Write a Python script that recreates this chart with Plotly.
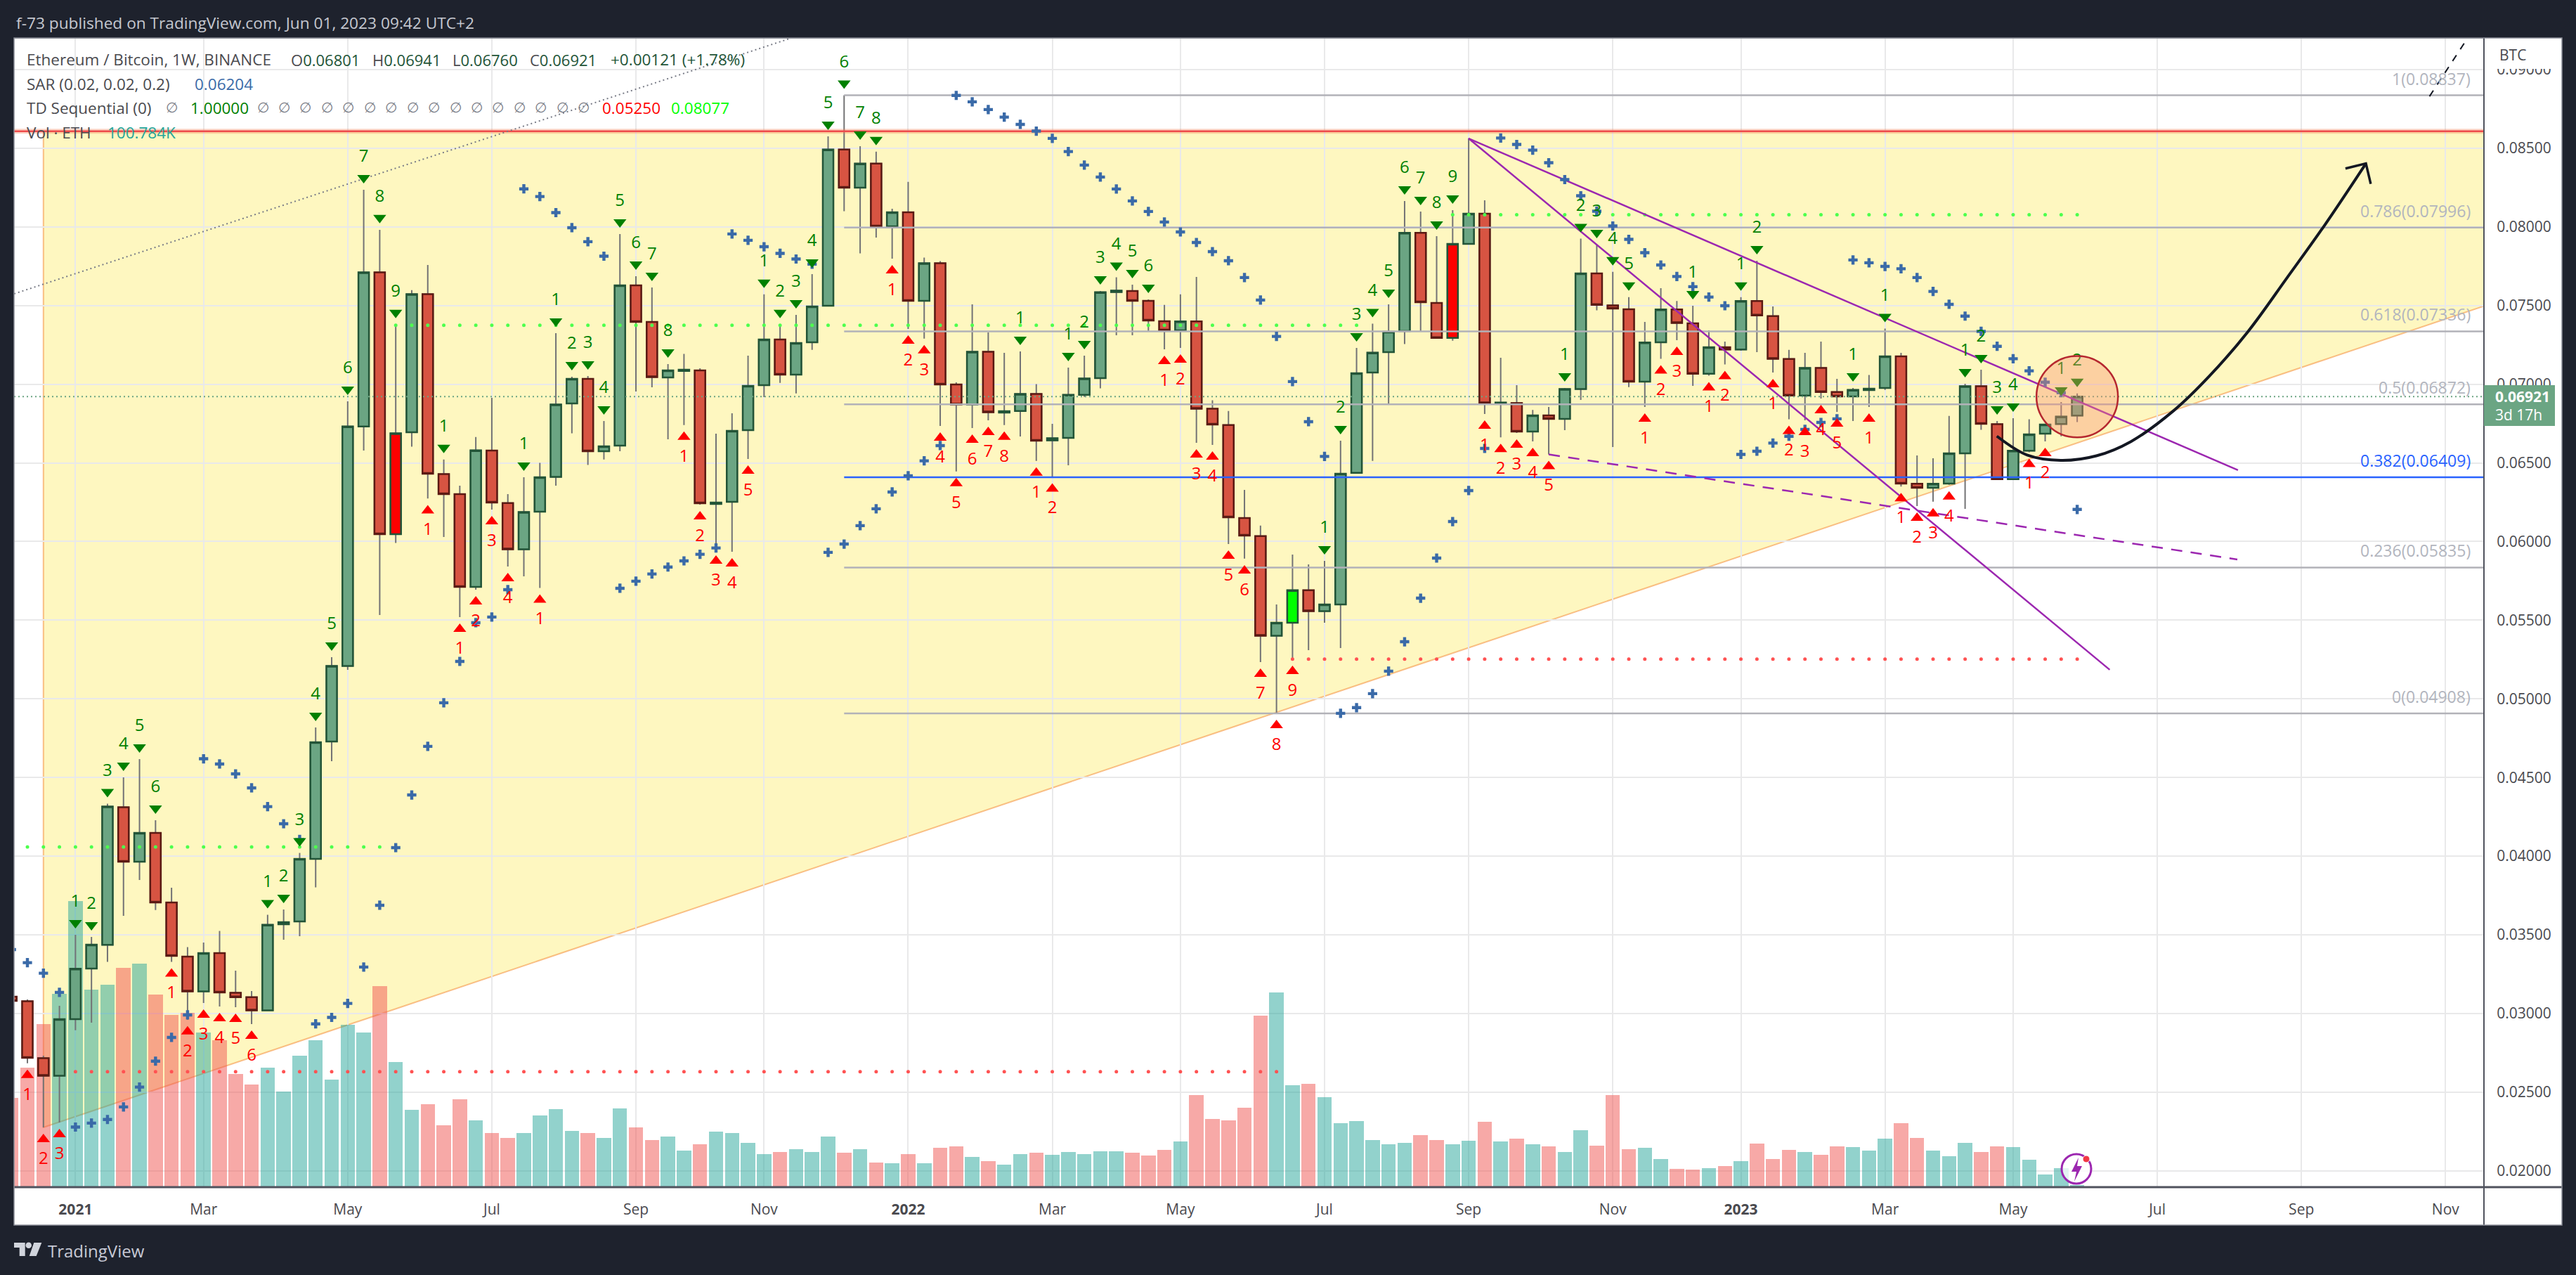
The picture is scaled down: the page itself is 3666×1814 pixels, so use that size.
from datetime import datetime, timedelta
import plotly.graph_objects as go

W, H = 3666, 1814
FONT = "Open Sans"

# weekly ETH/BTC candles, first bar is the clipped one at the left edge
first_week = datetime(2020, 12, 7)
opens = [
    .03107, .03078, .02716, .02604, .02964, .03286, .03436, .04311, .03965, .04148,
    .03706, .03362, .03140, .03384, .03131, .03104, .03020, .03567, .03585, .03983,
    .04729, .05209, .06731, .07711, .06047, .06695, .07573, .06429, .06302, .05712,
    .06579, .06245, .05951, .06190, .06411, .06878, .07034, .06574, .06610, .07629,
    .07396, .07043, .07084, .07088, .06239, .06252, .06708, .06994, .07285, .07061,
    .07267, .07499, .08492, .08250, .08403, .08004, .08093, .07530, .07769, .06999,
    .06871, .07206, .06820, .06830, .06938, .06643, .06659, .06933, .07039, .07586,
    .07593, .07530, .07401, .07343, .07399, .06844, .06741, .06150, .06034, .05401,
    .05484, .05690, .05558, .05600, .06437, .07074, .07204, .07338, .07962, .07517,
    .07294, .07892, .08084, .06874, .06880, .06699, .06802, .06780, .06969, .07705,
    .07501, .07477, .07016, .07267, .07475, .07387, .07067, .07235, .07221, .07529,
    .07433, .07160, .06928, .07103, .06950, .06923, .06963, .06976, .07177, .06367,
    .06342, .06369, .06561, .06987, .06746, .06396, .06577, .06686, .06747, .06801,
]
highs = [
    .03116, .03089, .02732, .03049, .03500, .03487, .04333, .04501, .04617, .04228,
    .03799, .03422, .03451, .03525, .03272, .03143, .03627, .03661, .04020, .04818,
    .05265, .06891, .08236, .07982, .07379, .07598, .07758, .06521, .06355, .06664,
    .06914, .06302, .06409, .06500, .07325, .07048, .07052, .06766, .07955, .07687,
    .07615, .07128, .07193, .07101, .06686, .06815, .07182, .07571, .07379, .07441,
    .07700, .08576, .08837, .08513, .08478, .08115, .08286, .07805, .07783, .07012,
    .07508, .07329, .07200, .07209, .07001, .06748, .07106, .07182, .07593, .07680,
    .07633, .07539, .07504, .07571, .07682, .06898, .06830, .06328, .06101, .05600,
    .05917, .05855, .05877, .06641, .07231, .07385, .07508, .08165, .08098, .07941,
    .08107, .08563, .08169, .07168, .06994, .06836, .06856, .06976, .07926, .07888,
    .07714, .07554, .07396, .07611, .07529, .07499, .07343, .07271, .07554, .07785,
    .07495, .07218, .07200, .07271, .07034, .06976, .07059, .07354, .07200, .06547,
    .06529, .06798, .07003, .07092, .06766, .06784, .06777, .06744, .06887, .06941,
]
lows = [
    .03062, .02684, .02276, .02307, .02893, .02942, .03328, .03621, .03849, .03657,
    .03328, .02960, .03067, .03044, .03040, .02933, .03020, .03469, .03491, .03802,
    .04604, .05185, .06579, .05533, .05991, .06603, .06273, .06029, .05520, .05694,
    .06203, .05841, .05779, .05705, .06355, .06688, .06487, .06522, .06574, .06954,
    .06981, .06650, .06740, .06235, .05953, .05935, .06525, .06918, .07008, .06941,
    .07218, .07495, .08100, .07832, .07932, .07798, .07352, .07290, .06735, .06446,
    .06722, .06771, .06740, .06668, .06513, .06411, .06485, .06919, .06974, .07311,
    .07311, .07338, .07222, .07231, .06628, .06614, .05984, .05891, .05234, .04908,
    .05252, .05310, .05484, .05323, .06437, .06513, .06878, .07255, .07338, .07289,
    .07277, .07892, .06811, .06662, .06690, .06637, .06554, .06708, .06900, .07470,
    .06601, .06982, .06856, .07162, .07280, .06990, .07054, .07126, .07213, .07204,
    .07075, .06777, .06771, .06909, .06824, .06766, .06856, .06964, .06349, .06226,
    .06253, .06361, .06208, .06710, .06391, .06391, .06567, .06637, .06669, .06760,
]
closes = [
    .03080, .02718, .02604, .02964, .03284, .03438, .04315, .03965, .04148, .03706,
    .03366, .03140, .03384, .03134, .03104, .03020, .03564, .03581, .03983, .04724,
    .05209, .06731, .07711, .06047, .06688, .07573, .06431, .06302, .05712, .06580,
    .06248, .05951, .06187, .06409, .06871, .07034, .06574, .06605, .07629, .07396,
    .07045, .07088, .07092, .06243, .06248, .06704, .06990, .07285, .07061, .07262,
    .07495, .08492, .08250, .08403, .08004, .08093, .07530, .07769, .06999, .06871,
    .07206, .06822, .06829, .06938, .06641, .06657, .06933, .07036, .07585, .07595,
    .07530, .07405, .07343, .07399, .06844, .06744, .06154, .06038, .05401, .05484,
    .05690, .05558, .05600, .06431, .07070, .07201, .07334, .07962, .07521, .07294,
    .07892, .08084, .06880, .06883, .06699, .06802, .06780, .06969, .07705, .07504,
    .07481, .07016, .07265, .07475, .07390, .07067, .07235, .07221, .07529, .07437,
    .07162, .06928, .07103, .06951, .06923, .06964, .06972, .07177, .06369, .06342,
    .06367, .06561, .06987, .06748, .06396, .06577, .06681, .06744, .06794, .06921,
]
# volume in thousand ETH, the pane scale is cut off near 70K
volumes = [
    1340, 1770, 2390, 2820, 4140, 2880, 2950, 3190, 3250, 2810,
    2520, 2550, 2270, 2160, 1680, 1530, 1770, 1430, 1940, 2160,
    1600, 2380, 2270, 2930, 1850, 1170, 1250, 950, 1320, 1020,
    840, 770, 840, 1090, 1180, 870, 840, 770, 1190, 920,
    740, 790, 590, 680, 860, 840, 700, 540, 570, 610,
    570, 790, 560, 610, 420, 410, 540, 410, 630, 650,
    500, 440, 390, 540, 560, 530, 570, 540, 580, 580,
    560, 520, 600, 720, 1380, 1040, 1020, 1200, 2510, 2840,
    1520, 1540, 1350, 980, 1010, 740, 680, 700, 810, 740,
    680, 730, 1000, 720, 760, 680, 650, 570, 880, 660,
    1380, 610, 630, 470, 330, 320, 340, 370, 440, 690,
    470, 600, 570, 530, 650, 640, 590, 760, 980, 770,
    590, 510, 700, 570, 650, 640, 460, 250, 340, 101,
]
sar = [
    .03406, .03323, .03256, .03134, .02278, .02303, .02326, .02406, .02532, .02697,
    .02848, .02991, .04619, .04586, .04523, .04434, .04315, .04206, .04106, .02934,
    .02975, .03064, .03295, .03688, .04054, .04389, .04698, .04975, .05238, .05484,
    .05520, .05694, .08242, .08193, .08091, .07995, .07906, .07814, .05703, .05748,
    .05794, .05838, .05877, .05919, .05959, .07955, .07915, .07874, .07832, .07796,
    .07763, .05931, .05984, .06101, .06208, .06315, .06418, .06513, .06610, .08836,
    .08795, .08746, .08698, .08652, .08609, .08563, .08479, .08393, .08317, .08241,
    .08165, .08098, .08031, .07968, .07901, .07843, .07785, .07678, .07535, .07304,
    .07017, .06762, .06541, .04908, .04944, .05033, .05176, .05363, .05640, .05895,
    .06127, .06324, .06592, .08565, .08524, .08488, .08408, .08301, .08198, .08100,
    .08006, .07921, .07836, .07758, .07685, .07620, .07554, .07499, .06554, .06574,
    .06626, .06669, .06713, .06757, .06780, .07790, .07772, .07749, .07734, .07678,
    .07590, .07508, .07433, .07336, .07241, .07162, .07085, .07013, .06946, .06204,
]
# TD setup count per bar: positive above the bar, negative below, 0 for none
td_setup = [
    0, -1, -2, -3, 1, 2, 3, 4, 5, 6,
    -1, -2, -3, -4, -5, -6, 1, 2, 3, 4,
    5, 6, 7, 8, 9, 0, -1, 1, -1, -2,
    -3, -4, 1, -1, 1, 2, 3, 4, 5, 6,
    7, 8, -1, -2, -3, -4, -5, 1, 2, 3,
    4, 5, 6, 7, 8, -1, -2, -3, -4, -5,
    -6, -7, -8, 1, -1, -2, 1, 2, 3, 4,
    5, 6, -1, -2, -3, -4, -5, -6, -7, -8,
    -9, 0, 1, 2, 3, 4, 5, 6, 7, 8,
    9, 0, -1, -2, -3, -4, -5, 1, 2, 3,
    4, 5, -1, -2, -3, 1, -1, -2, 1, 2,
    -1, -2, -3, -4, -5, 1, -1, 1, -1, -2,
    -3, -4, 1, 2, 3, 4, -1, -2, 1, 2,
]
bright_red_bars = [23, 89]
bright_green_bars = [79]

# TD resistance and support levels: (first bar, last bar, price)
td_resist_levels = [(0, 23, .04059), (23, 83, .07375), (89, 128, .08077)]
td_support_levels = [(3, 78, .02630), (79, 128, .05253)]

fib_levels = [1, .786, .618, .5, .382, .236, 0]
fib_prices = [.08837, .07996, .07336, .06872, .06409, .05835, .04908]

price_ticks = [.02, .025, .03, .035, .04, .045, .05, .055, .06, .065, .07, .075, .08, .085, .09]
date_tick_bars = [3, 11, 20, 29, 38, 46, 55, 64, 72, 81, 90, 99, 107, 116, 124, 133, 142, 151]
date_tick_text = ["<b>2021</b>", "Mar", "May", "Jul", "Sep", "Nov", "<b>2022</b>", "Mar", "May", "Jul", "Sep",
                  "Nov", "<b>2023</b>", "Mar", "May", "Jul", "Sep", "Nov"]

resistance_price = .08608
last_close = .06921
left_bar, right_bar = -0.834, 153.4

# drawings on the chart: bar number and price
wedge_low = [(1, .02276), (153.4, .07497)]
trend_dotted = [(-0.83, .07575), (47.65, .09199)]
trend_dashed_black = [(150.0, .08830), (152.3, .09188)]
fan_upper = [(90, .08562), (138.04, .06454)]
fan_lower = [(90, .08562), (130.03, .05185)]
fan_dashed = [(95, .06554), (138.0, .05886)]
curve_bars = [122.98, 124.87, 126.98, 129.2, 131.36, 134.07, 136.23, 138.66, 141.1, 143.5, 146.03]
curve_prices = [.06670, .06550, .06516, .06545, .06636, .06836, .07049, .07334, .07676, .08018, .08403]
arrow_head = [(144.75, .08371), (146.03, .08403), (146.33, .08274)]


def bar_date(i):
    # bar 0 of the lists is number -1 on the chart
    return first_week + timedelta(days=7 * (i + 1))


def px(x):
    return x / W


def py(y):
    return 1 - y / H


n = len(opens)
bars = list(range(-1, n - 1))
dates = [bar_date(i) for i in bars]
left_x, right_x = bar_date(left_bar), bar_date(right_bar)


def pick(values, wanted):
    return [v for i, v in zip(bars, values) if i in wanted]


def candles(wanted, color_up, color_down, fill_up, fill_down, hi, lo, width):
    return go.Candlestick(
        x=pick(dates, wanted), open=pick(opens, wanted), close=pick(closes, wanted),
        high=pick(hi, wanted), low=pick(lo, wanted), yaxis="y2", whiskerwidth=0,
        increasing=dict(line=dict(color=color_up, width=width), fillcolor=fill_up),
        decreasing=dict(line=dict(color=color_down, width=width), fillcolor=fill_down),
        hoverinfo="skip", showlegend=False,
    )


def line(points, color, width=2.5, dash="solid", shape="linear"):
    return go.Scatter(
        x=[bar_date(p[0]) for p in points], y=[p[1] for p in points], yaxis="y2",
        mode="lines", line=dict(color=color, width=width, dash=dash, shape=shape),
        hoverinfo="skip", showlegend=False,
    )


fig = go.Figure()

# volume sits on the lower axis so the price traces stay on top
vol_colors = ["rgba(38,166,154,.5)" if c >= o else "rgba(239,83,80,.5)" for o, c in zip(opens, closes)]
fig.add_trace(go.Bar(x=dates, y=volumes, marker=dict(color=vol_colors, line_width=0),
                     width=7 * 86400000 * 0.9, hoverinfo="skip", showlegend=False))

# TD levels as one dot per bar
for levels, color in [(td_resist_levels, "#4dff4d"), (td_support_levels, "#ff5252")]:
    for first, last, level in levels:
        level_bars = list(range(first, last + 1))
        fig.add_trace(go.Scatter(x=[bar_date(i) for i in level_bars], y=[level] * len(level_bars), yaxis="y2",
                                 mode="markers", marker=dict(color=color, size=5), hoverinfo="skip", showlegend=False))

fig.add_trace(line([(left_bar, last_close), (right_bar, last_close)], "#6ba583", 2, "2px,4px"))

GREY = "#737375"
plain_bars = set(bars) - set(bright_red_bars) - set(bright_green_bars)
fig.add_trace(candles(set(bars), GREY, GREY, "rgba(0,0,0,0)", "rgba(0,0,0,0)", highs, lows, 2))
body_hi = [max(o, c) for o, c in zip(opens, closes)]
body_lo = [min(o, c) for o, c in zip(opens, closes)]
fig.add_trace(candles(plain_bars, "#225437", "#5b1a13", "#6ba583", "#d75442", body_hi, body_lo, 2.5))
fig.add_trace(candles(set(bright_red_bars), "#225437", "#5b1a13", "#ff0000", "#ff0000", body_hi, body_lo, 2.5))
fig.add_trace(candles(set(bright_green_bars), "#225437", "#225437", "#00ff00", "#00ff00", body_hi, body_lo, 2.5))

# fibonacci retracement from the 2021 high
for level, price in zip(fib_levels, fib_prices):
    blue = level == .382
    fig.add_trace(line([(51, price), (right_bar, price)], "#2962ff" if blue else "#b2b2b8", 2.5))

fig.add_trace(line([(left_bar, resistance_price), (right_bar, resistance_price)], "rgba(245,130,90,.35)", 7))
fig.add_trace(line([(left_bar, resistance_price), (right_bar, resistance_price)], "#ee4b4b", 2.5))
fig.add_trace(line(trend_dotted, "#787b86", 2, "2px,4px"))
fig.add_trace(line(trend_dashed_black, "#131722", 2, "10px,10px"))
fig.add_trace(line(fan_upper, "#9c27b0"))
fig.add_trace(line(fan_lower, "#9c27b0"))
fig.add_trace(line(fan_dashed, "#9c27b0", 2.5, "16px,12px"))

# parabolic SAR
fig.add_trace(go.Scatter(x=dates, y=sar, yaxis="y2", mode="markers",
                         marker=dict(symbol="cross", size=11, color="#3a6aa8", line_width=0),
                         hoverinfo="skip", showlegend=False))

# TD sequential triangles and digits
TRI_GAP, DIGIT_GAP = .00076, .00205
sell_bars = [j for j in range(n) if td_setup[j] > 0]
buy_bars = [j for j in range(n) if td_setup[j] < 0]
fig.add_trace(go.Scatter(x=[dates[j] for j in sell_bars], y=[highs[j] + TRI_GAP for j in sell_bars], yaxis="y2",
                         mode="markers", marker=dict(symbol="triangle-down", size=16, color="#008000", line_width=0),
                         hoverinfo="skip", showlegend=False))
fig.add_trace(go.Scatter(x=[dates[j] for j in sell_bars], y=[highs[j] + DIGIT_GAP for j in sell_bars], yaxis="y2",
                         mode="text", text=[str(td_setup[j]) for j in sell_bars],
                         textfont=dict(family=FONT, size=24, color="#008000"), hoverinfo="skip", showlegend=False))
fig.add_trace(go.Scatter(x=[dates[j] for j in buy_bars], y=[lows[j] - TRI_GAP for j in buy_bars], yaxis="y2",
                         mode="markers", marker=dict(symbol="triangle-up", size=16, color="#ff0000", line_width=0),
                         hoverinfo="skip", showlegend=False))
fig.add_trace(go.Scatter(x=[dates[j] for j in buy_bars], y=[lows[j] - DIGIT_GAP for j in buy_bars], yaxis="y2",
                         mode="text", text=[str(-td_setup[j]) for j in buy_bars],
                         textfont=dict(family=FONT, size=24, color="#ff0000"), hoverinfo="skip", showlegend=False))

# hand drawn forecast curve
fig.add_trace(go.Scatter(x=[bar_date(b) for b in curve_bars], y=curve_prices, yaxis="y2", mode="lines",
                         line=dict(color="#131722", width=4, shape="spline", smoothing=1),
                         hoverinfo="skip", showlegend=False))
fig.add_trace(line(arrow_head, "#131722", 3.5))


def path_point(b, price):
    return bar_date(b).strftime("%Y-%m-%d_%H:%M:%S") + "," + str(price)


wedge_path = ("M " + path_point(*wedge_low[0]) + " L " + path_point(*wedge_low[1])
              + " L " + path_point(wedge_low[1][0], resistance_price)
              + " L " + path_point(wedge_low[0][0], resistance_price) + " Z")

shapes = [
    # white strips of the two axes
    dict(type="rect", xref="paper", yref="paper", layer="below", x0=px(20), x1=px(3646), y0=py(1743), y1=py(1689),
         fillcolor="white", line_width=0),
    dict(type="rect", xref="paper", yref="paper", layer="below", x0=px(3535), x1=px(3646), y0=py(1743), y1=py(54),
         fillcolor="white", line_width=0),
    dict(type="path", xref="x", yref="y2", layer="below", path=wedge_path,
         fillcolor="rgba(252,230,60,.32)", line=dict(color="rgba(245,150,70,.6)", width=2)),
    dict(type="circle", xref="x", yref="y2", x0=bar_date(128 - 2.545), x1=bar_date(128 + 2.545),
         y0=last_close - .00259, y1=last_close + .00259,
         fillcolor="rgba(250,145,110,.38)", line=dict(color="#b5272f", width=2.5)),
    # block that cuts the top tick label under the BTC caption
    dict(type="rect", xref="paper", yref="paper", x0=px(3537), x1=px(3645), y0=py(98), y1=py(55),
         fillcolor="white", line_width=0),
    dict(type="line", xref="paper", yref="paper", x0=px(3535), x1=px(3535), y0=py(1743), y1=py(54),
         line=dict(color="#50535e", width=2)),
    dict(type="line", xref="paper", yref="paper", x0=px(20), x1=px(3646), y0=py(1689), y1=py(1689),
         line=dict(color="#50535e", width=3)),
    dict(type="rect", xref="paper", yref="paper", x0=px(20), x1=px(3646), y0=py(1743), y1=py(54),
         line=dict(color="#8a8d96", width=1.5)),
    # last price tag
    dict(type="rect", xref="paper", yref="paper", x0=px(3535), x1=px(3636), y0=py(606), y1=py(548),
         fillcolor="#6ba583", line_width=0),
    # replay bolt icon at the last bar
    dict(type="circle", xref="paper", yref="paper", x0=px(2934), x1=px(2976), y0=py(1684), y1=py(1642),
         fillcolor="rgba(255,255,255,.75)", line=dict(color="#9c27b0", width=3)),
    dict(type="path", xref="paper", yref="paper", fillcolor="#9c27b0", line_width=0,
         path=f"M {px(2958)},{py(1647)} L {px(2948)},{py(1667)} L {px(2955)},{py(1667)} L {px(2952)},{py(1681)} "
              f"L {px(2963)},{py(1659)} L {px(2956)},{py(1659)} Z"),
    dict(type="circle", xref="paper", yref="paper", x0=px(2964), x1=px(2974), y0=py(1654), y1=py(1644),
         fillcolor="#f23645", line=dict(color="white", width=1)),
    # TradingView mark in the footer
    dict(type="path", xref="paper", yref="paper", fillcolor="#d1d4dc", line_width=0,
         path=f"M {px(20)},{py(1768)} L {px(35.7)},{py(1768)} L {px(35.7)},{py(1787)} L {px(27.7)},{py(1787)} "
              f"L {px(27.7)},{py(1775)} L {px(20)},{py(1775)} Z"),
    dict(type="circle", xref="paper", yref="paper", fillcolor="#d1d4dc", line_width=0,
         x0=px(36.5), x1=px(45), y0=py(1776), y1=py(1767.5)),
    dict(type="path", xref="paper", yref="paper", fillcolor="#d1d4dc", line_width=0,
         path=f"M {px(48.3)},{py(1768)} L {px(59.3)},{py(1768)} L {px(51.7)},{py(1787)} L {px(41.7)},{py(1787)} Z"),
]

annotations = []


def label(text, x, y, color, size=22.5, anchor="left", family=FONT):
    annotations.append(dict(text=text, x=px(x), y=py(y), xref="paper", yref="paper", showarrow=False,
                            xanchor=anchor, yanchor="middle", font=dict(family=family, size=size, color=color)))


TITLE_GREY = "#4a4a4f"
VALUE_GREEN = "#225437"
label("f-73 published on TradingView.com, Jun 01, 2023 09:42 UTC+2", 21, 32, "#c5c8d0", 22.7)
label("Ethereum / Bitcoin, 1W, BINANCE", 36, 85, TITLE_GREY)
for x, head, value in [(412, "O", "0.06801"), (528, "H", "0.06941"), (642, "L", "0.06760"), (752, "C", "0.06921")]:
    label(f'<span style="color:{TITLE_GREY}">{head}</span>{value}', x, 85, VALUE_GREEN, 22)
label("+0.00121 (+1.78%)", 867, 85, VALUE_GREEN)
label("SAR (0.02, 0.02, 0.2)", 36, 119, TITLE_GREY)
label("0.06204", 275, 119, "#3a6aa8")
label("TD Sequential (0)", 36, 153, TITLE_GREY)
label("∅", 244, 153, "#787b86", 20, "center", "DejaVu Sans")
label("1.00000", 269, 153, "#008000")
for k in range(16):
    label("∅", 374 + k * 30.45, 153, "#787b86", 20, "center", "DejaVu Sans")
label("0.05250", 855, 153, "#ff0000")
label("0.08077", 953, 153, "#00ff00")
label("Vol · ETH", 36, 188, TITLE_GREY)
label("100.784K", 151, 188, "#26a69a")
label("BTC", 3555, 78, TITLE_GREY, 21)
label("<b>0.06921</b>", 3549, 564, "white", 21)
label("3d 17h", 3549, 590, "white", 21)
label("TradingView", 66, 1779, "#c8cad6", 24)

for level, price in zip(fib_levels, fib_prices):
    annotations.append(dict(text=f"{level}({price:.5f})", x=(3518 - 20) / (3535 - 20), y=price, xref="x domain", yref="y2",
                            showarrow=False, xanchor="right", yanchor="bottom", yshift=6,
                            font=dict(family=FONT, size=23, color="#2962ff" if level == .382 else "#b2b5be")))

fig.update_layout(
    width=W, height=H, autosize=False,
    margin=dict(l=0, r=0, t=0, b=0),
    paper_bgcolor="#1e222d", plot_bgcolor="white",
    boxmode="overlay", boxgap=.34, boxgroupgap=0, bargap=0, showlegend=False,
    font=dict(family=FONT),
    shapes=shapes, annotations=annotations,
    xaxis=dict(
        type="date", domain=[px(20), px(3535)], range=[left_x, right_x], anchor="y",
        tickmode="array", tickvals=[bar_date(b) for b in date_tick_bars], ticktext=date_tick_text,
        showgrid=True, gridcolor="#e9e9ea", gridwidth=2, zeroline=False, showline=False,
        ticks="outside", ticklen=13, tickcolor="white", tickangle=0,
        tickfont=dict(family=FONT, size=21, color="#4a4a4f"),
        rangeslider=dict(visible=False),
    ),
    yaxis=dict(domain=[py(1689), py(54.5)], range=[70, 16405], visible=False, fixedrange=True),
    yaxis2=dict(
        domain=[py(1689), py(54.5)], range=[.01896, .09199], overlaying="y", side="right", anchor="x",
        tickmode="array", tickvals=price_ticks, ticktext=[f"{t:.5f}" for t in price_ticks],
        showgrid=True, gridcolor="#e9e9ea", gridwidth=2, zeroline=False, showline=False,
        ticks="outside", ticklen=13, tickcolor="white",
        tickfont=dict(family=FONT, size=21, color="#4a4a4f"),
    ),
)

fig.write_html("out.html", config=dict(displayModeBar=False), post_script="document.body.style.margin='0';")
